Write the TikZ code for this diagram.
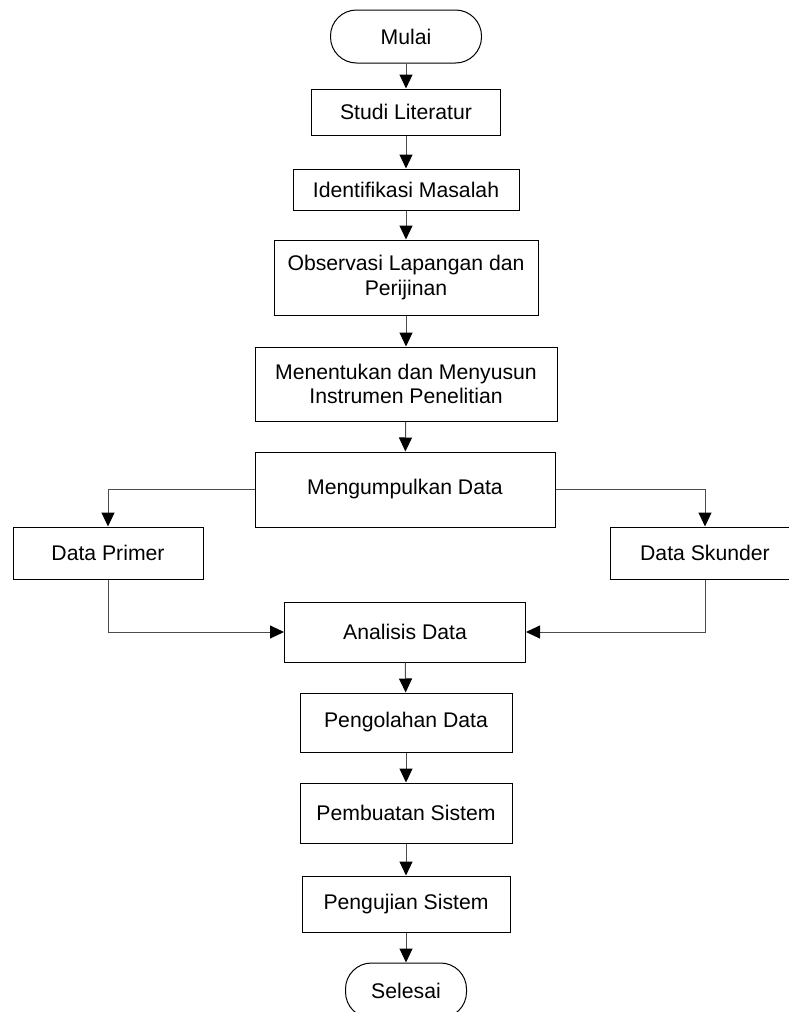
\documentclass[tikz,border=0pt]{standalone}
\usepackage{fontspec}
\setmainfont{Liberation Sans}
\usetikzlibrary{arrows.meta}
\usetikzlibrary{calc}

\begin{document}
\begin{tikzpicture}[x=1pt,y=-1pt,
        box/.style={draw,line width=1pt,inner sep=0pt,align=center,font=\fontsize{21.2}{24.5}\selectfont},
        term/.style={box,rounded corners=26pt},
        arr/.style={draw=black!70,line width=1pt,-{Triangle[length=14pt,width=13pt,color=black]}}]
                \useasboundingbox (0,0) rectangle (788,1012);
                \node[term,minimum width=151pt,minimum height=53pt] (mulai) at (406,36.5) {Mulai};
                \node[box,minimum width=189pt,minimum height=46pt] (studi) at (406,112) {Studi Literatur};
                \node[box,minimum width=226pt,minimum height=41pt] (identifikasi) at (406,189.5) {Identifikasi Masalah};
                \node[box,minimum width=264pt,minimum height=75pt] (observasi) at (406,277.5) {Observasi Lapangan dan\\Perijinan};
                \node[box,minimum width=302pt,minimum height=74pt] (instrumen) at (406,384) {Menentukan dan Menyusun\\Instrumen Penelitian};
                \node[box,minimum width=300pt,minimum height=75pt] (kumpul) at (405,489.5) {Mengumpulkan Data};
                \node[box,minimum width=190pt,minimum height=52pt] (primer) at (108,553) {Data Primer};
                \node[box,minimum width=190pt,minimum height=52pt] (skunder) at (705,553) {Data Skunder};
                \node[box,minimum width=241pt,minimum height=60pt] (analisis) at (405,632) {Analisis Data};
                \node[box,minimum width=212pt,minimum height=59pt] (olah) at (406,722.5) {Pengolahan Data};
                \node[box,minimum width=212pt,minimum height=60pt] (buat) at (406,813) {Pembuatan Sistem};
                \node[box,minimum width=208pt,minimum height=56pt] (uji) at (406,904) {Pengujian Sistem};
                \node[term,minimum width=121pt,minimum height=55pt] (selesai) at (406,990.5) {Selesai};
                \foreach \a/\b in {mulai/studi, studi/identifikasi, identifikasi/observasi, observasi/instrumen, instrumen/kumpul, analisis/olah, olah/buat, buat/uji, uji/selesai} {
                    \draw[arr] (\a) -- (\b);
                }
                \draw[arr] (kumpul.west) -| (primer.north);
                \draw[arr] (kumpul.east) -| (skunder.north);
                \draw[arr] (primer.south) |- (analisis.west);
                \draw[arr] (skunder.south) |- (analisis.east);
            \end{tikzpicture}
\end{document}
